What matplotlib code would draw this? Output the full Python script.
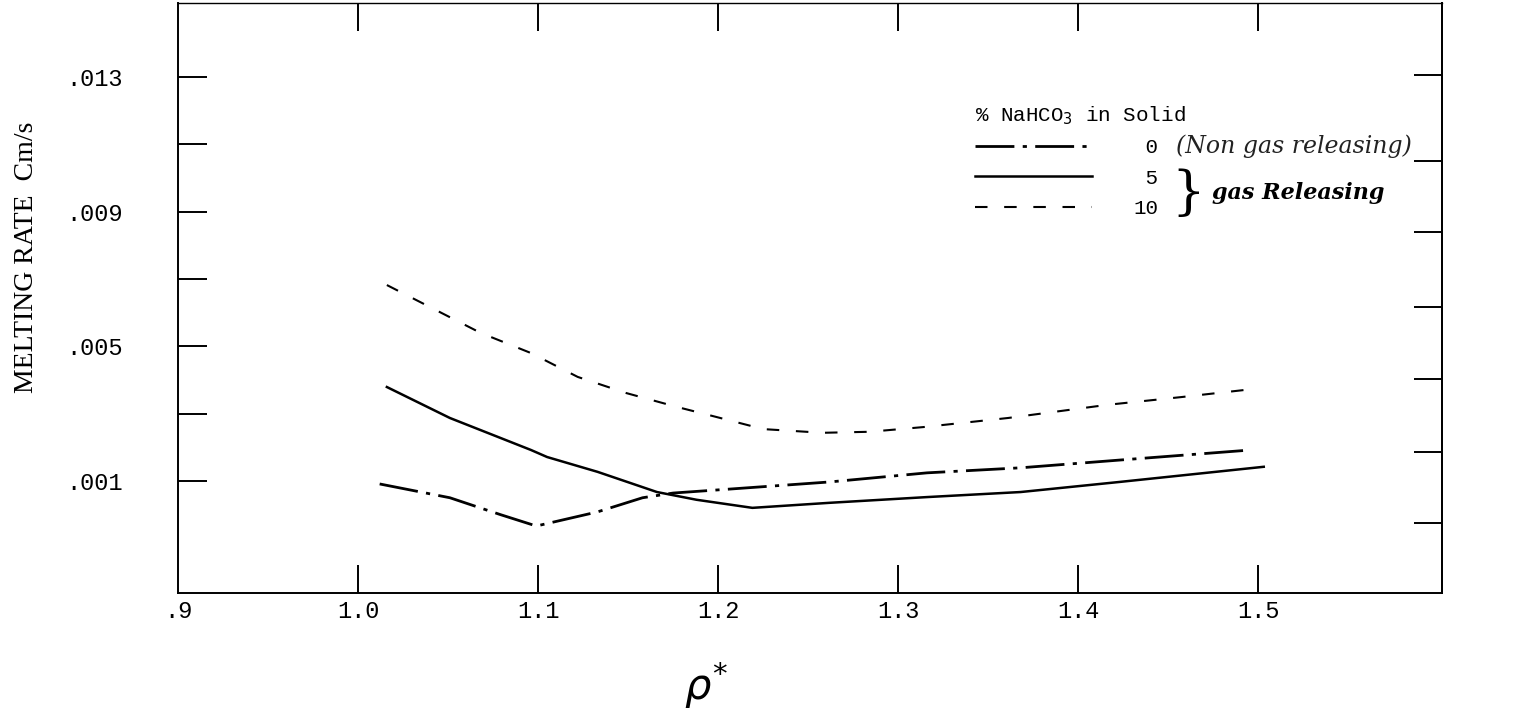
import matplotlib
matplotlib.use("Agg")
import matplotlib.pyplot as plt

# ---------------- data ----------------
x_dashed = [1.016, 1.068, 1.096, 1.122, 1.149, 1.177, 1.199, 1.225, 1.258, 1.284,
            1.314, 1.361, 1.416, 1.457, 1.497]
y_dashed = [0.00682, 0.00540, 0.00480, 0.00409, 0.00361, 0.00320, 0.00290, 0.00254,
            0.00243, 0.00246, 0.00260, 0.00287, 0.00326, 0.00349, 0.00373]

x_solid = [1.016, 1.051, 1.096, 1.105, 1.133, 1.166, 1.188, 1.219, 1.262, 1.316,
           1.368, 1.423, 1.503]
y_solid = [0.00379, 0.00287, 0.00192, 0.00171, 0.00127, 0.00067, 0.00044, 0.00020,
           0.00035, 0.00052, 0.00067, 0.00097, 0.00142]

x_dashdot = [1.012, 1.051, 1.079, 1.099, 1.133, 1.158, 1.175, 1.207, 1.262, 1.316,
             1.368, 1.423, 1.496]
y_dashdot = [0.00091, 0.00050, 0.00000, -0.00034, 0.00008, 0.00050, 0.00064, 0.00076,
             0.00097, 0.00124, 0.00139, 0.00162, 0.00192]

series_labels = [" 0", " 5", "10"]
xtick_vals = [0.9, 1.0, 1.1, 1.2, 1.3, 1.4, 1.5]
xtick_labels = [".9", "1.0", "1.1", "1.2", "1.3", "1.4", "1.5"]
ytick_vals = [0.013, 0.011, 0.009, 0.007, 0.005, 0.003, 0.001]
ytick_labels = [".013", "", ".009", "", ".005", "", ".001"]
yright_vals = [0.01306, 0.0105, 0.0084, 0.00617, 0.00403, 0.00186, -0.00025]

W, H = 1528, 710
fig = plt.figure(figsize=(W / 100, H / 100), dpi=100)
L, R, B, T = 178, 1442, 593, 3
ax = fig.add_axes([L / W, 1 - B / H, (R - L) / W, (B - T) / H])
ax.set_xlim(0.9, 1.602)
ax.set_ylim(-0.00233, 0.0152)

for s in ax.spines.values():
    s.set_linewidth(1.4)
    s.set_color("black")
ax.spines["top"].set_linewidth(1.0)

mono = "Liberation Mono"

l0, = ax.plot(x_dashdot, y_dashdot, color="black", lw=2.0, dashes=[14, 3, 1.5, 3])
l5, = ax.plot(x_solid, y_solid, color="black", lw=1.8, ls="-")
l10, = ax.plot(x_dashed, y_dashed, color="black", lw=1.5, dashes=[6, 8])

ax.set_xticks(xtick_vals)
ax.set_xticklabels(xtick_labels, family=mono, fontsize=17)
ax.set_yticks(ytick_vals)
ax.set_yticklabels(ytick_labels, family=mono, fontsize=17)
ax.tick_params(axis="x", direction="in", length=20, width=1.4, top=True, pad=5)
ax.tick_params(axis="y", direction="in", length=21, width=1.4, pad=40)
ax.xaxis.get_major_ticks()[0].tick1line.set_visible(False)
ax.xaxis.get_major_ticks()[0].tick2line.set_visible(False)

sec = ax.secondary_yaxis("right")
sec.set_yticks(yright_vals)
sec.set_yticklabels([""] * len(yright_vals))
sec.tick_params(direction="in", length=20, width=1.4)
sec.spines["right"].set_linewidth(1.4)

fig.text(27 / W, 1 - 257 / H, "MELTING RATE  Cm/s", rotation=90, ha="center",
         va="center", family="Liberation Serif", fontsize=20)
fig.text(706 / W, 1 - 685 / H, r"$\rho^{*}$", ha="center", va="center", fontsize=30)

leg = ax.legend([l0, l5, l10], series_labels, loc="upper left",
                bbox_to_anchor=(975 / W, 1 - 104 / H), bbox_transform=fig.transFigure,
                frameon=False, prop={"family": mono, "size": 15},
                handlelength=5.6, handletextpad=2.0, labelspacing=0.55,
                title="% NaHCO$_3$ in Solid",
                title_fontproperties={"family": mono, "size": 15},
                alignment="left", borderpad=0, borderaxespad=0)

fig.text(1176 / W, 1 - 146 / H, "(Non gas releasing)", ha="left", va="center",
         family="DejaVu Serif", style="italic", fontsize=17, color="#222222")
fig.text(1188 / W, 1 - 193 / H, "}", ha="center", va="center",
         family="DejaVu Serif", fontsize=38)
fig.text(1212 / W, 1 - 193 / H, "gas Releasing", ha="left", va="center",
         family="DejaVu Serif", style="italic", fontsize=16, fontweight="bold")

fig.savefig("out.png", dpi=100)
